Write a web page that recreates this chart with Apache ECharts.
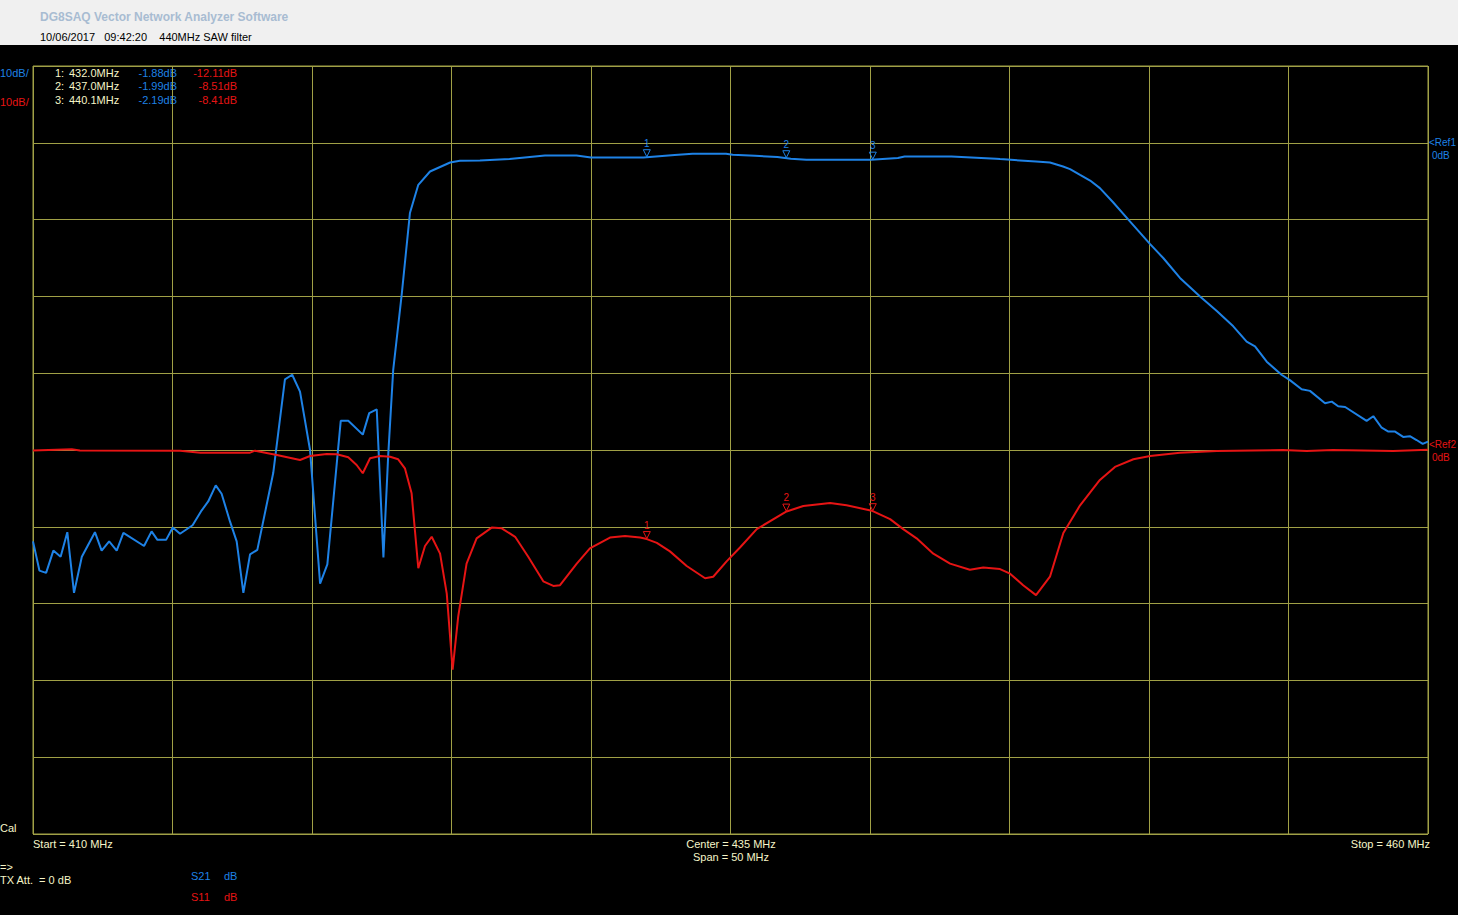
<!DOCTYPE html>
<html>
<head>
<meta charset="utf-8">
<script src="https://cdn.jsdelivr.net/npm/echarts@6/dist/echarts.min.js"></script>
<style>
html,body{margin:0;padding:0;background:#000;}
#c{width:1458px;height:915px;}
</style>
</head>
<body>
<div id="c"></div>
<script>
// ---- data (MHz, dB) ----
const s21Freq = [410.0,410.23,410.47,410.73,410.99,411.23,411.47,411.75,412.22,412.46,412.73,413.0,413.24,413.98,414.25,414.46,414.77,415.01,415.27,415.72,416.02,416.28,416.55,416.76,417.06,417.30,417.54,417.78,418.04,418.61,419.03,419.29,419.57,419.93,420.29,420.55,421.03,421.30,421.82,422.05,422.32,422.56,422.73,422.91,423.22,423.51,423.81,424.23,424.95,425.30,426.02,427.08,428.35,429.48,430.0,431.88,433.0,433.64,434.84,435.08,435.88,436.68,437.16,437.72,440.04,441.0,441.24,442.92,444.52,444.66,445.95,446.45,446.92,447.17,447.53,447.89,448.24,448.72,449.26,450.04,450.51,451.11,451.83,452.43,453.02,453.50,453.80,454.22,454.75,455.05,455.47,455.77,456.31,456.55,456.78,457.03,457.80,458.04,458.34,458.58,458.82,459.11,459.35,459.59,459.81,460.0];
const s21Db = [-51.9,-55.7,-56.0,-53.1,-53.9,-50.7,-58.6,-53.9,-50.7,-53.1,-51.9,-53.1,-50.8,-52.5,-50.6,-51.7,-51.7,-50.1,-50.9,-49.8,-48.0,-46.7,-44.6,-45.7,-49.3,-51.9,-58.6,-53.6,-53.0,-43.0,-30.8,-30.2,-32.4,-40.0,-57.4,-54.9,-36.2,-36.2,-38.0,-35.2,-34.7,-54.0,-40.8,-29.6,-19.6,-9.15,-5.47,-3.74,-2.57,-2.34,-2.30,-2.12,-1.65,-1.65,-1.91,-1.91,-1.60,-1.43,-1.43,-1.56,-1.69,-1.86,-2.08,-2.21,-2.21,-1.99,-1.78,-1.78,-2.08,-2.12,-2.43,-2.57,-3.09,-3.42,-4.17,-4.91,-5.90,-7.77,-10.0,-13.2,-15.0,-17.6,-20.0,-21.9,-23.9,-25.9,-26.5,-28.5,-30.2,-30.9,-32.1,-32.3,-33.9,-33.7,-34.3,-34.4,-36.2,-35.6,-37.1,-37.6,-37.6,-38.3,-38.2,-38.7,-39.2,-38.9];

const s11Freq = [410.0,411.39,411.68,415.27,416.0,417.78,417.96,418.74,419.57,419.93,420.53,420.89,421.30,421.60,421.82,422.08,422.44,422.80,423.09,423.33,423.57,423.81,424.05,424.29,424.59,424.83,425.04,425.24,425.54,425.90,426.44,426.80,427.28,427.75,428.29,428.65,428.89,429.49,429.96,430.68,431.22,431.76,432.0,432.36,432.83,433.43,434.09,434.38,434.86,435.34,435.94,437.01,437.61,438.57,439.16,440.06,440.72,441.19,441.67,442.27,442.87,443.58,444.06,444.66,445.02,445.49,445.95,446.45,446.93,447.53,448.24,448.78,449.44,450.04,451.11,452.43,454.80,455.65,456.59,458.75,460.0];
const s11Db = [-0.07,0.09,-0.07,-0.09,-0.35,-0.35,-0.09,-0.65,-1.30,-0.78,-0.52,-0.56,-0.95,-1.95,-3.03,-1.08,-0.78,-0.87,-1.21,-2.38,-5.64,-15.4,-12.5,-11.3,-13.5,-18.7,-28.6,-21.7,-14.8,-11.5,-10.1,-10.2,-11.3,-13.9,-17.1,-17.7,-17.6,-14.8,-12.8,-11.4,-11.2,-11.4,-11.6,-12.1,-13.2,-15.1,-16.7,-16.5,-14.5,-12.7,-10.3,-8.0,-7.3,-6.9,-7.2,-7.9,-9.0,-10.3,-11.5,-13.5,-14.8,-15.6,-15.3,-15.5,-16.1,-17.6,-18.9,-16.5,-10.8,-7.2,-3.9,-2.2,-1.21,-0.78,-0.35,-0.13,0.0,-0.13,0.0,-0.13,0.04];

const markerIds = ['1','2','3'];
const markerFreq = [432.0, 437.0, 440.1];
const markerS21 = [-1.88, -1.99, -2.19];
const markerS11 = [-12.11, -8.51, -8.41];

const startFreq = 410, stopFreq = 460, centerFreq = 435, spanFreq = 50;

// ---- styling ----
const BLUE = '#1e82e6', RED = '#e61414', GRID = '#a0a046', PALE = '#f5f5c8';
const FONT = '"Liberation Sans", Arial, sans-serif';

function interp(fx, fy, f){
  for(let i=1;i<fx.length;i++){
    if(fx[i]>=f){const t=(f-fx[i-1])/(fx[i]-fx[i-1]);return fy[i-1]+t*(fy[i]-fy[i-1]);}
  }
  return fy[fy.length-1];
}
function pairs(a,b){return a.map((v,i)=>[v,b[i]]);}

const triPath = 'path://M0,0 L10,0 L5,9 Z';
function marks(fx, fy, color){
  return {
    symbol: triPath, symbolSize:[7,7], symbolOffset:[0,-4],
    itemStyle:{color:'rgba(0,0,0,0)', borderColor:color, borderWidth:1},
    label:{show:true, position:'top', distance:1, color:color, fontSize:10, fontFamily:FONT, formatter:p=>p.name},
    data: markerFreq.map((f,i)=>({name:markerIds[i], coord:[f, interp(fx,fy,f)]}))
  };
}

function txt(text,x,y,fill,opt){
  return {type:'text', style:Object.assign({text, x, y, fill, fontSize:11, fontFamily:FONT, verticalAlign:'middle'}, opt||{})};
}

const g = [
  {type:'rect', shape:{x:0,y:0,width:1458,height:45}, style:{fill:'#f0f0f0'}},
  txt('DG8SAQ Vector Network Analyzer Software',40,17,'#a8bcd2',{fontWeight:'bold',fontSize:12}),
  txt('10/06/2017   09:42:20    440MHz SAW filter',40,37,'#000'),
  txt('10dB/',0,73,BLUE), txt('10dB/',0,102,RED),
  txt('<Ref1',1429,142,BLUE,{fontSize:10}), txt('0dB',1432,155,BLUE,{fontSize:10}),
  txt('<Ref2',1429,444,RED,{fontSize:10}), txt('0dB',1432,457,RED,{fontSize:10}),
  txt('Cal',0,828,PALE),
  txt('Start = '+startFreq+' MHz',33,844,PALE),
  txt('Center = '+centerFreq+' MHz',731,844,PALE,{align:'center'}),
  txt('Span = '+spanFreq+' MHz',731,857,PALE,{align:'center'}),
  txt('Stop = '+stopFreq+' MHz',1430,844,PALE,{align:'right'}),
  txt('=>',0,867,PALE),
  txt('TX Att.  = 0 dB',0,880,PALE),
  txt('S21',191,876,BLUE), txt('dB',224,876,BLUE),
  txt('S11',191,897,RED), txt('dB',224,897,RED)
];
markerFreq.forEach((f,i)=>{
  const y = 73 + i*13.3;
  g.push(txt(markerIds[i]+':',55,y,PALE));
  g.push(txt(f.toFixed(1)+'MHz',69,y,PALE));
  g.push(txt(markerS21[i].toFixed(2)+'dB',177,y,BLUE,{align:'right'}));
  g.push(txt(markerS11[i].toFixed(2)+'dB',237,y,RED,{align:'right'}));
});

const chart = echarts.init(document.getElementById('c'), null, {renderer:'svg'});
chart.setOption({
  backgroundColor:'#000',
  animation:false,
  grid:{left:33, top:66, width:1395, height:768, show:true, borderColor:GRID, borderWidth:1, backgroundColor:'transparent'},
  xAxis:{type:'value', min:startFreq, max:stopFreq, interval:5,
    axisLine:{show:false}, axisTick:{show:false}, axisLabel:{show:false},
    splitLine:{show:true, lineStyle:{color:GRID, width:1}}},
  yAxis:[
    {type:'value', min:-90, max:10, interval:10, axisLine:{show:false}, axisTick:{show:false}, axisLabel:{show:false},
      splitLine:{show:true, lineStyle:{color:GRID, width:1}}},
    {type:'value', min:-50, max:50, interval:10, show:false, splitLine:{show:false}}
  ],
  series:[
    {name:'S21', type:'line', yAxisIndex:0, data:pairs(s21Freq,s21Db), showSymbol:false, symbol:'none',
      lineStyle:{color:BLUE, width:2}, itemStyle:{color:BLUE}, markPoint:marks(s21Freq,s21Db,BLUE), z:2},
    {name:'S11', type:'line', yAxisIndex:1, data:pairs(s11Freq,s11Db), showSymbol:false, symbol:'none',
      lineStyle:{color:RED, width:2}, itemStyle:{color:RED}, markPoint:marks(s11Freq,s11Db,RED), z:3}
  ],
  graphic:g
});
</script>
</body>
</html>
